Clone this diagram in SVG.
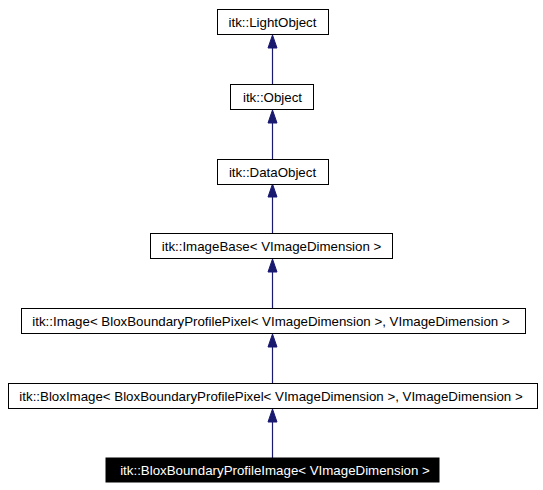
<svg xmlns="http://www.w3.org/2000/svg" width="543" height="490" viewBox="0 0 543 490">
<defs>
<style>
.n rect{fill:#ffffff;stroke:#000000;stroke-width:1}
.n text{font-family:"Liberation Sans",Arial,sans-serif;font-size:13.3px;fill:#000000;text-anchor:middle}
.h rect{fill:#000000;stroke:#000000}
.h text{fill:#ffffff}
.e line{stroke:#191970;stroke-width:1.2}
.e polygon{fill:#191970;stroke:#191970}
</style>
</defs>
<rect x="0" y="0" width="543" height="490" fill="#ffffff"/>
<g id="connectors" class="e">
<line x1="272.5" y1="84" x2="272.5" y2="47"/>
<polygon points="272.5,35 277,48 268,48"/>
<line x1="272.5" y1="159" x2="272.5" y2="122"/>
<polygon points="272.5,110 277,123 268,123"/>
<line x1="272.5" y1="233" x2="272.5" y2="196"/>
<polygon points="272.5,184 277,197 268,197"/>
<line x1="272.5" y1="308" x2="272.5" y2="271"/>
<polygon points="272.5,259 277,272 268,272"/>
<line x1="272.5" y1="383" x2="272.5" y2="346"/>
<polygon points="272.5,334 277,347 268,347"/>
<line x1="272.5" y1="458" x2="272.5" y2="421"/>
<polygon points="272.5,409 277,422 268,422"/>
</g>
<g id="node-lightobject" class="n">
<rect x="217.5" y="9.5" width="111" height="25"/>
<text x="272.5" y="27">itk::LightObject</text>
</g>
<g id="node-object" class="n">
<rect x="230.5" y="84.5" width="83" height="25"/>
<text x="272.5" y="102">itk::Object</text>
</g>
<g id="node-dataobject" class="n">
<rect x="217.5" y="159.5" width="111" height="25"/>
<text x="272.5" y="177">itk::DataObject</text>
</g>
<g id="node-imagebase" class="n">
<rect x="150.5" y="233.5" width="242" height="25"/>
<text x="271.5" y="251">itk::ImageBase&lt; VImageDimension &gt;</text>
</g>
<g id="node-image" class="n">
<rect x="21.5" y="308.5" width="504" height="25"/>
<text x="271" y="326">itk::Image&lt; BloxBoundaryProfilePixel&lt; VImageDimension &gt;, VImageDimension &gt;</text>
</g>
<g id="node-bloximage" class="n">
<rect x="8.5" y="383.5" width="529" height="25"/>
<text x="271" y="401">itk::BloxImage&lt; BloxBoundaryProfilePixel&lt; VImageDimension &gt;, VImageDimension &gt;</text>
</g>
<g id="node-bloxboundaryprofileimage" class="n h">
<rect x="106" y="458" width="333" height="24"/>
<text x="275" y="475">itk::BloxBoundaryProfileImage&lt; VImageDimension &gt;</text>
</g>
</svg>
